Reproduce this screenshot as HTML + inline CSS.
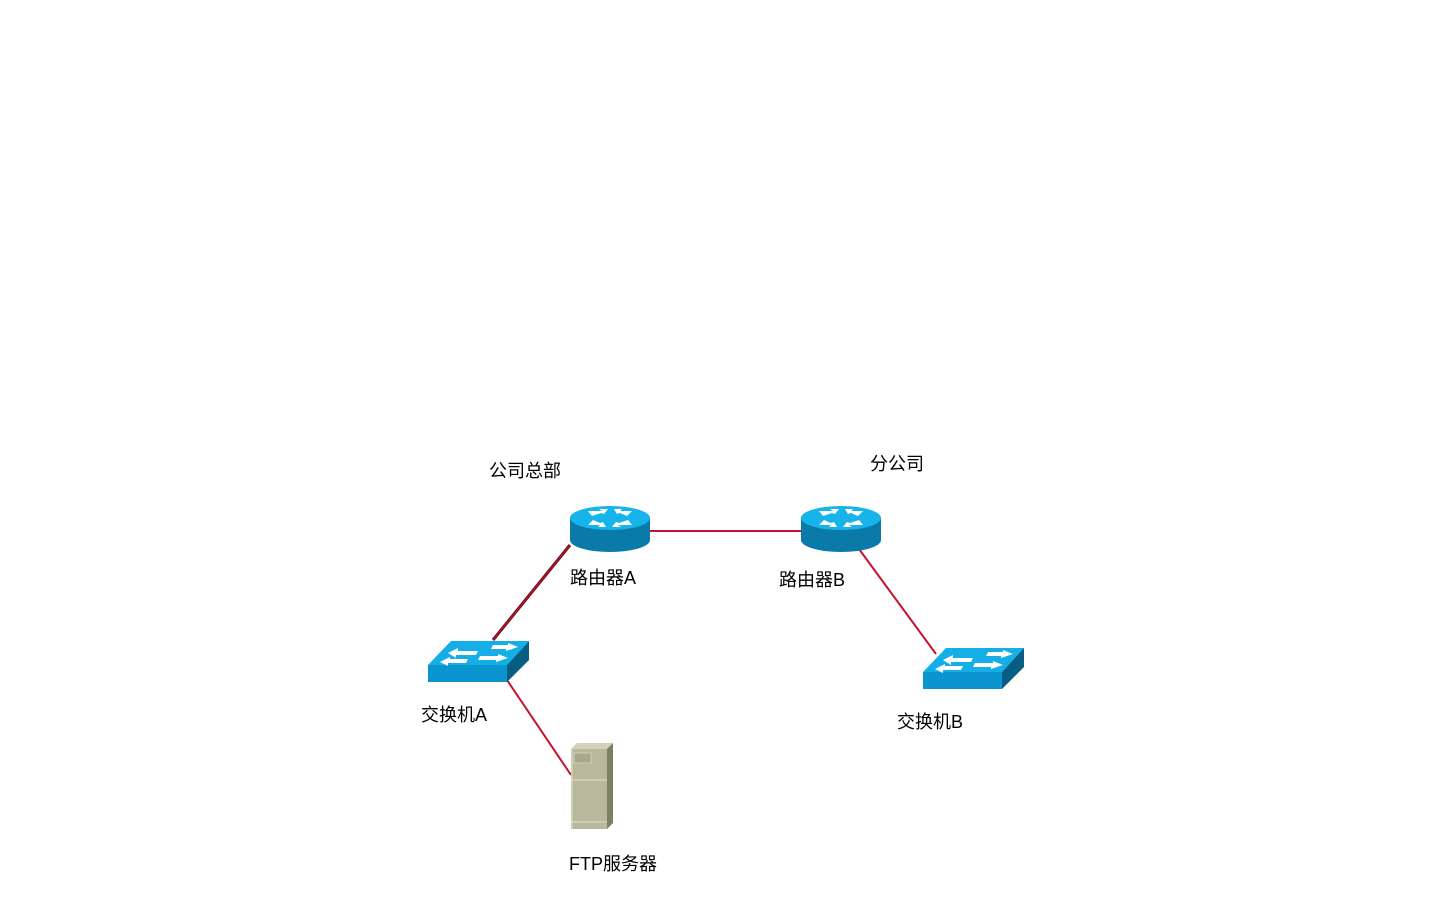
<!DOCTYPE html>
<html><head><meta charset="utf-8"><style>
html,body{margin:0;padding:0;background:#fff;width:1440px;height:900px;overflow:hidden}
svg{display:block}
text{font-family:"Liberation Sans","Noto Sans CJK SC",sans-serif;font-size:18px;fill:#000}
</style></head><body>
<svg width="1440" height="900" viewBox="0 0 1440 900" xmlns="http://www.w3.org/2000/svg">
<defs>
<g id="router">
  <path d="M-40,0 L-40,22 A40,12 0 0 0 40,22 L40,0 Z" fill="#0a7aa8"/>
  <ellipse cx="0" cy="0" rx="40" ry="12" fill="#16b4ea"/>
  <g fill="#fff" stroke="none">
    <polygon points="-22,-7 -8,-7 -11,-9 -2,-9 -6,-4 -9,-5 -18,-2"/>
    <polygon points="22,7 8,7 11,9 2,9 6,4 9,5 18,2"/>
    <polygon points="22,-7 10,-7 12,-9 4,-9 7,-4 10,-5 17,-2"/>
    <polygon points="-22,7 -10,7 -12,9 -4,9 -7,4 -10,5 -17,2"/>
  </g>
</g>
<g id="switch">
  <polygon points="0,24 79,24 101,0 23,0" fill="#16aee6"/>
  <polygon points="0,24 79,24 79,41 0,41" fill="#0a95cf"/>
  <polygon points="79,24 101,0 101,19 79,41" fill="#075e83"/>
  <g fill="#fff">
    <polygon points="20,12 30,7 30,10 50,10 48,14 28,14 28,17"/>
    <polygon points="90,6 80,2 80,4 65,4 63,8 78,8 78,10"/>
    <polygon points="12,21 22,16 22,18 40,18 38,22 20,22 20,25"/>
    <polygon points="80,17 70,13 70,15 52,15 50,19 68,19 68,21"/>
  </g>
</g>
</defs>

<!-- links -->
<g stroke-width="2" fill="none">
  <line x1="570" y1="545" x2="493" y2="640" stroke="#5a0a16" stroke-width="3"/>
  <line x1="570" y1="545" x2="493" y2="640" stroke="#c8102e" stroke-width="1.2"/>
  <line x1="650" y1="531" x2="802" y2="531" stroke="#c8102e"/>
  <line x1="859" y1="549" x2="936" y2="654" stroke="#c8102e"/>
  <line x1="507" y1="680" x2="571" y2="775" stroke="#c8102e"/>
</g>

<use href="#router" x="610" y="518"/>
<use href="#router" x="841" y="518"/>
<use href="#switch" x="428" y="641"/>
<use href="#switch" x="923" y="648"/>

<!-- server -->
<g>
  <polygon points="571,749 577,743 613,743 607,749" fill="#d2d2b8"/>
  <polygon points="607,749 613,743 613,823 607,829" fill="#7e7e62"/>
  <rect x="571" y="749" width="36" height="80" fill="#b8b89c"/>
  <rect x="574" y="753" width="17" height="10" fill="#a8a88c" stroke="#d8d8c8" stroke-width="0.8"/>
  <line x1="571" y1="780" x2="607" y2="780" stroke="#e0e0cc"/>
  <line x1="571" y1="822" x2="607" y2="822" stroke="#e0e0cc"/>
  <line x1="572" y1="749" x2="572" y2="829" stroke="#e4e4d4"/>
</g>

<text x="489" y="477">公司总部</text>
<text x="870" y="470">分公司</text>
<text x="570" y="584">路由器A</text>
<text x="779" y="586">路由器B</text>
<text x="421" y="721">交换机A</text>
<text x="897" y="728">交换机B</text>
<text x="569" y="870">FTP服务器</text>
</svg>
</body></html>
